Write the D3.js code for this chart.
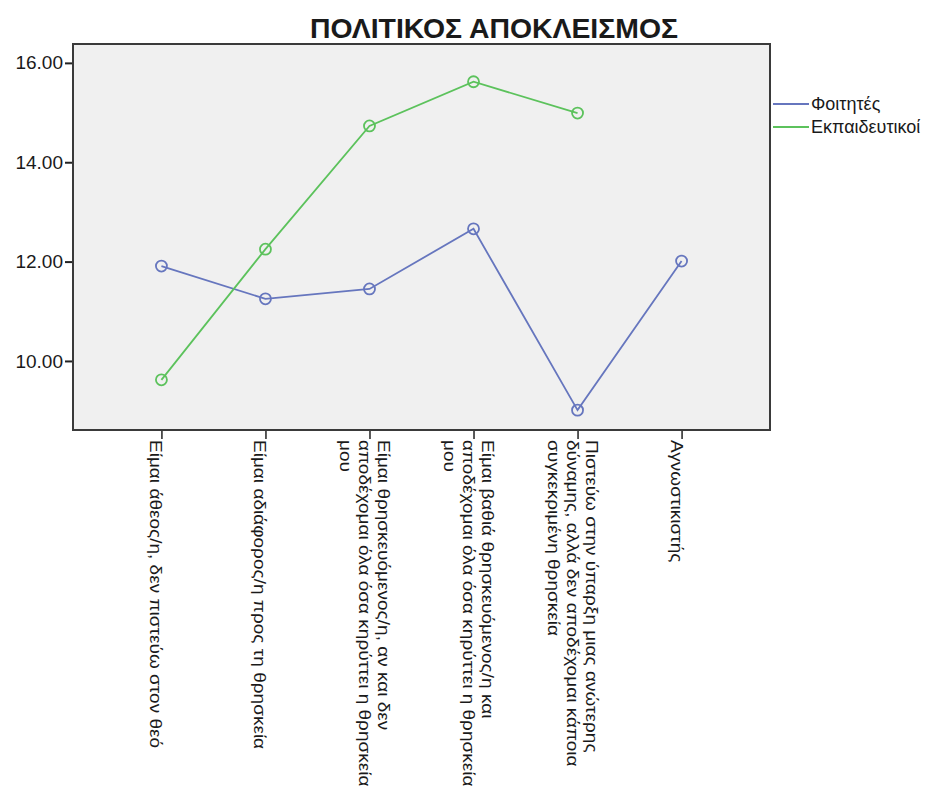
<!DOCTYPE html>
<html>
<head>
<meta charset="utf-8">
<script src="https://cdn.jsdelivr.net/npm/d3@7"></script>
<style>
  html, body { margin: 0; padding: 0; background: #ffffff; }
  svg { display: block; }
  text { font-family: "Liberation Sans", Arial, sans-serif; fill: #1a1a1a; }
</style>
</head>
<body>
<svg id="chart" width="936" height="798"></svg>
<script>
const title = "ΠΟΛΙΤΙΚΟΣ ΑΠΟΚΛΕΙΣΜΟΣ";
const categories = [
  ["Είμαι άθεος/η, δεν πιστεύω στον θεό"],
  ["Είμαι αδιάφορος/η προς τη θρησκεία"],
  ["Είμαι θρησκευόμενος/η, αν και δεν", "αποδέχομαι όλα όσα κηρύττει η θρησκεία", "μου"],
  ["Είμαι βαθιά θρησκευόμενος/η και", "αποδέχομαι όλα όσα κηρύττει η θρησκεία", "μου"],
  ["Πιστεύω στην ύπαρξη μιας ανώτερης", "δύναμης, αλλά δεν αποδέχομαι κάποια", "συγκεκριμένη θρησκεία"],
  ["Αγνωστικιστής"]
];
const seriesNames = ["Φοιτητές", "Εκπαιδευτικοί"];
const students = [11.91, 11.25, 11.45, 12.66, 9.01, 12.01];
const teachers = [9.62, 12.25, 14.73, 15.62, 14.99, null];
const yTicks = [10, 12, 14, 16];
const colors = ["#6676be", "#5cc25c"];

const svg = d3.select("#chart");
const plot = { left: 73, right: 770, top: 44, bottom: 430 };

const x = d3.scalePoint()
  .domain(d3.range(categories.length))
  .range([plot.left, plot.right])
  .padding(0.85);

const y = d3.scaleLinear()
  .domain([8.61, 16.38])
  .range([plot.bottom, plot.top]);

// title
svg.append("text")
  .attr("x", 494).attr("y", 38)
  .attr("text-anchor", "middle")
  .style("font-size", "27px")
  .style("font-weight", "bold")
  .attr("textLength", 368)
  .attr("lengthAdjust", "spacingAndGlyphs")
  .text(title);

// plot background and frame
svg.append("rect")
  .attr("x", plot.left).attr("y", plot.top)
  .attr("width", plot.right - plot.left)
  .attr("height", plot.bottom - plot.top)
  .attr("fill", "#f0f0f0")
  .attr("stroke", "#3a3a3a")
  .attr("stroke-width", 2);

// y axis
const yAxis = d3.axisLeft(y)
  .tickValues(yTicks)
  .tickSize(7)
  .tickPadding(2)
  .tickFormat(d3.format(".2f"));
const gy = svg.append("g")
  .attr("transform", `translate(${plot.left - 1},0)`)
  .call(yAxis);
gy.select(".domain").remove();
gy.selectAll(".tick line").attr("stroke", "#222").attr("stroke-width", 2);
gy.selectAll(".tick text")
  .style("font-size", "19px")
  .style("font-family", "'Liberation Sans', Arial, sans-serif")
  .attr("fill", "#222");

// x axis
const xAxis = d3.axisBottom(x).tickSize(8).tickFormat("");
const gx = svg.append("g")
  .attr("transform", `translate(0,${plot.bottom + 1})`)
  .call(xAxis);
gx.select(".domain").remove();
gx.selectAll(".tick line").attr("stroke", "#222").attr("stroke-width", 1.5);

// x labels rotated
const lh = 19;
categories.forEach((lines, i) => {
  const t = svg.append("text")
    .attr("transform", `translate(${x(i)},${plot.bottom + 10}) rotate(90) scale(1.12,1)`)
    .style("font-size", "17px")
    .attr("fill", "#222");
  const n = lines.length;
  lines.forEach((ln, j) => {
    const c = 5 + (j - (n - 1) / 2) * lh;
    t.append("tspan")
      .attr("x", 0)
      .attr("y", c)
      .attr("dy", "0.35em")
      .text(ln);
  });
});

// lines and markers
const series = [students, teachers];
series.forEach((vals, si) => {
  const line = d3.line()
    .defined(d => d != null)
    .x((d, i) => x(i))
    .y(d => y(d));
  svg.append("path")
    .datum(vals)
    .attr("d", line)
    .attr("fill", "none")
    .attr("stroke", colors[si])
    .attr("stroke-width", 1.8);
  svg.append("g").selectAll("circle")
    .data(vals.map((v, i) => ({ v, i })).filter(d => d.v != null))
    .join("circle")
    .attr("cx", d => x(d.i))
    .attr("cy", d => y(d.v))
    .attr("r", 5.5)
    .attr("fill", "none")
    .attr("stroke", colors[si])
    .attr("stroke-width", 1.8);
});

// legend
const leg = svg.append("g");
seriesNames.forEach((name, i) => {
  const yy = 104 + i * 23;
  leg.append("line")
    .attr("x1", 773).attr("x2", 809)
    .attr("y1", yy).attr("y2", yy)
    .attr("stroke", colors[i]).attr("stroke-width", 1.8);
  leg.append("text")
    .attr("x", 811).attr("y", yy)
    .attr("dy", "0.35em")
    .style("font-size", "18px")
    .attr("fill", "#222")
    .text(name);
});
</script>
</body>
</html>
